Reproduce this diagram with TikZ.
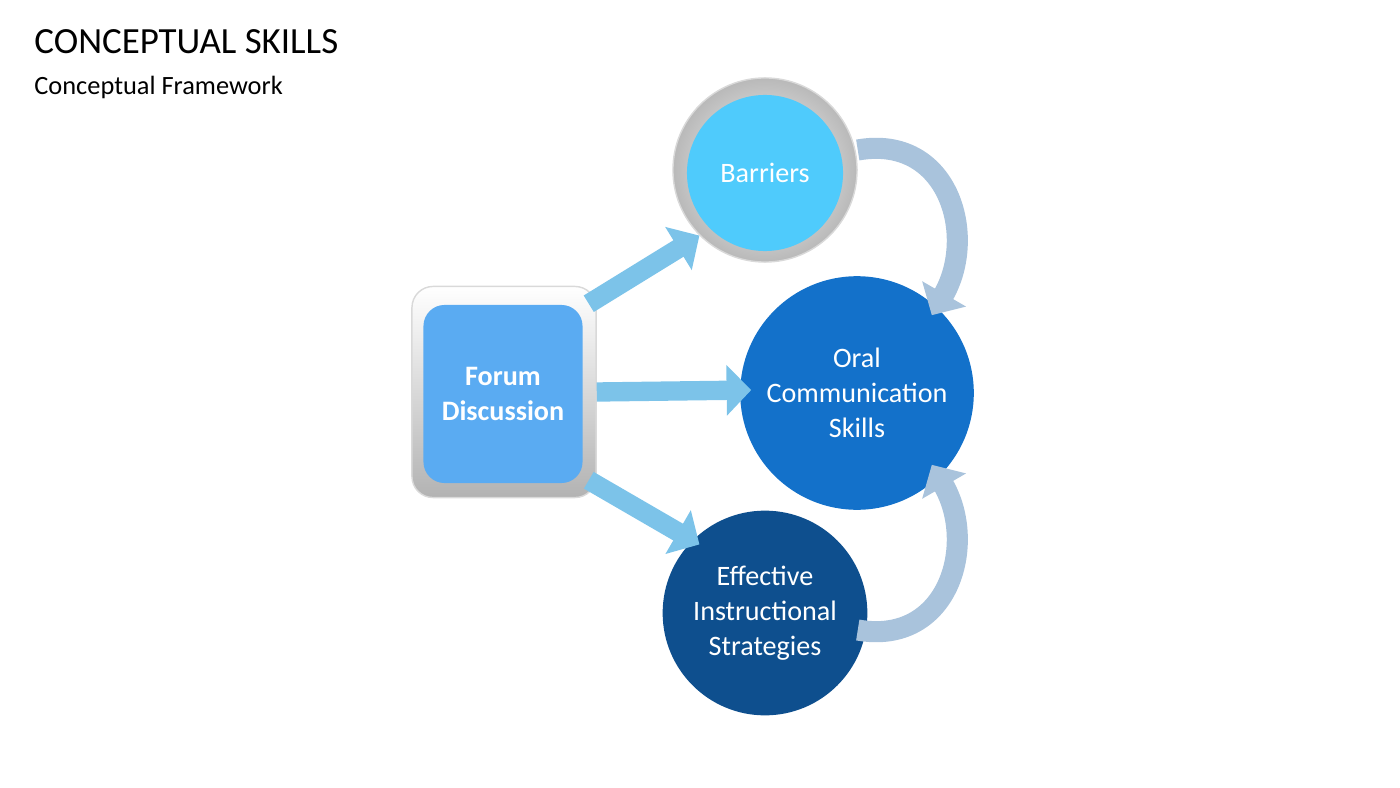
\documentclass[tikz,border=0pt]{standalone}
\usepackage{fontspec}
\setmainfont{Carlito}
\usetikzlibrary{positioning,arrows.meta,shadings}
\definecolor{boxblue}{HTML}{5AABF2}
\definecolor{barblue}{HTML}{4FCBFC}
\definecolor{oralblue}{HTML}{1371CA}
\definecolor{effblue}{HTML}{0E4F8E}
\definecolor{arrblue}{HTML}{7CC3E9}
\definecolor{curvblue}{HTML}{A9C3DC}
\tikzset{
  ring/.style={circle, inner color=white, outer color=gray!55, draw=gray!30},
  disc/.style={circle, text=white, align=center, font=\fontsize{8}{10}\selectfont},
  fatarrow/.style={draw=arrblue, line width=5.5pt, -{Triangle[length=7pt,width=14pt]}},
  bendarrow/.style={draw=curvblue, line width=6pt, -{Triangle[length=7pt,width=14pt]}, color=curvblue}
}
\begin{document}
\begin{tikzpicture}[x=0.01cm,y=-0.01cm]
  \useasboundingbox (0,0) rectangle (1400,788);
  % Titles
  \node (title) [anchor=west, font=\fontsize{10.5}{12}\selectfont] at (22,42) {CONCEPTUAL SKILLS};
  \node (subtitle) [anchor=west, font=\fontsize{7.5}{9}\selectfont] at (22,87) {Conceptual Framework};
  % Forum box
  \node (forumframe) [rounded corners=6pt, minimum width=1.84cm, minimum height=2.11cm,
    top color=white, bottom color=gray!60, draw=gray!30] at (504,392) {};
  \node (forum) [rounded corners=6pt, minimum width=1.59cm, minimum height=1.78cm, fill=boxblue,
    text=white, align=center, font=\bfseries\fontsize{8}{10}\selectfont] at (503,394) {Forum\\Discussion};
  % Circles
  \node (barring) [ring, minimum size=1.84cm] at (765,170) {};
  \node (barriers) [disc, fill=barblue, minimum size=1.56cm] at (765,173) {Barriers};
  \node (oralring) [ring, minimum size=2.1cm] at (857,390) {};
  \node (oral) [disc, fill=oralblue, minimum size=1.82cm] at (857,393) {Oral\\Communication\\Skills};
  \node (effring) [ring, minimum size=1.84cm] at (765,610) {};
  \node (effective) [disc, fill=effblue, minimum size=1.56cm] at (765,613) {Effective\\Instructional\\Strategies};
  % Arrows
  \draw[fatarrow] (forumframe.north east) ++(-8,18) coordinate (a1) -- (barring.south west);
  \draw[fatarrow] (forumframe.east) -- (oralring.west);
  \draw[fatarrow] (forumframe.south east) ++(-8,-18) coordinate (a3) -- (effring.north west);
  \draw[bendarrow] (barring.east) ++(0,-20) coordinate (c1) to[out=10, in=60, looseness=1.3] (oralring.north east);
  \draw[bendarrow] (effring.east) ++(0,20) coordinate (c2) to[out=-10, in=-60, looseness=1.3] (oralring.south east);
\end{tikzpicture}
\end{document}
